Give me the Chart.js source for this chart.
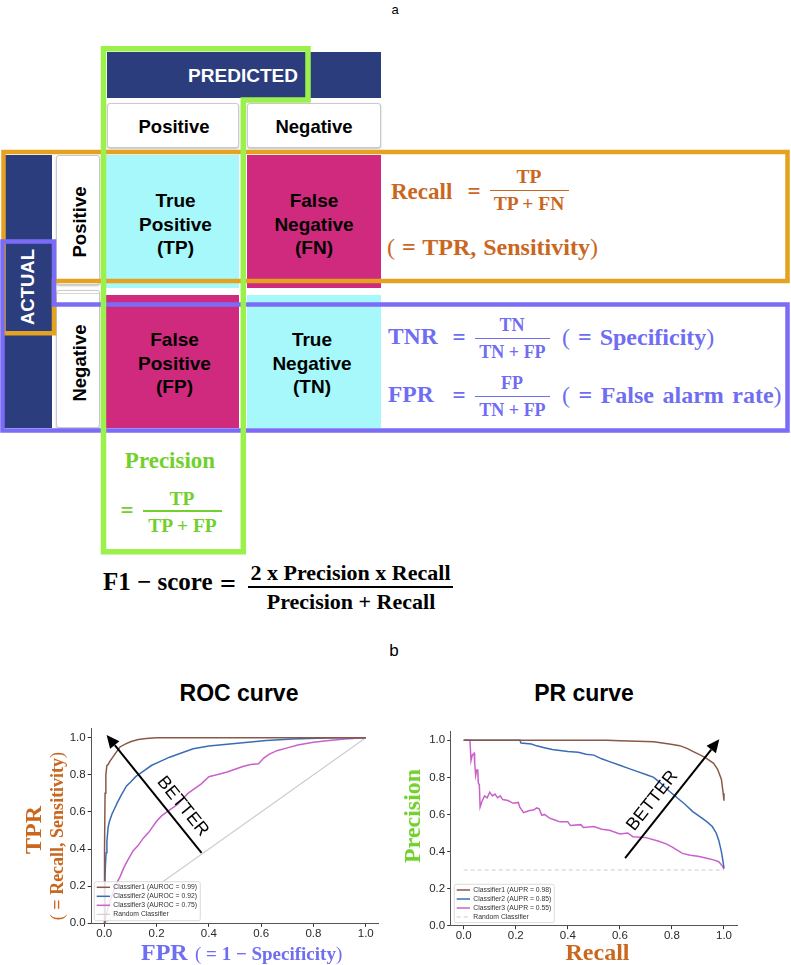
<!DOCTYPE html>
<html><head><meta charset="utf-8">
<script src="https://cdn.jsdelivr.net/npm/chart.js@4.4.1/dist/chart.umd.min.js"></script>
<style>
html,body{margin:0;padding:0;background:#fff;}
#fig{position:relative;width:791px;height:965px;overflow:hidden;font-family:"Liberation Sans",Arial,sans-serif;color:#000;}
.abs{position:absolute;}
.c{position:absolute;white-space:nowrap;line-height:1;transform:translate(-50%,-50%);}
.l{position:absolute;white-space:nowrap;line-height:1;transform:translateY(-50%);}
.rot{position:absolute;white-space:nowrap;line-height:1;transform:translate(-50%,-50%) rotate(-90deg);}
.serif{font-family:"Liberation Serif","Times New Roman",serif;font-weight:bold;}
.navy{position:absolute;background:#2c3d7e;}
.hdr{position:absolute;background:#fff;border:1px solid #c9c9c9;border-radius:3px;box-shadow:0 1px 2px rgba(0,0,0,0.25);box-sizing:border-box;}
.cell{position:absolute;display:flex;align-items:center;justify-content:center;text-align:center;font-weight:bold;font-size:19px;line-height:23.5px;}
.cyan{background:#a6f8fa;}
.mag{background:#cf2a7d;}
.bold{font-weight:bold;}
.fbar{position:absolute;}
.org{color:#c9671f;} .pur{color:#6f6df2;} .grn{color:#72d02c;}
.nw{font-weight:normal;}
</style></head>
<body>
<div id="fig">
  <div class="c" style="left:395px;top:9px;font-size:13px;">a</div>
  <div class="c" style="left:394px;top:650px;font-size:17px;">b</div>

  <!-- confusion matrix -->
  <div class="navy" style="left:107px;top:52px;width:274px;height:46px;"></div>
  <div class="c bold" style="left:243px;top:75px;font-size:19px;color:#fff;">PREDICTED</div>
  <div class="hdr" style="left:107px;top:103px;width:132px;height:45px;"></div>
  <div class="c bold" style="left:174px;top:127px;font-size:18.5px;">Positive</div>
  <div class="hdr" style="left:247px;top:103px;width:134px;height:45px;"></div>
  <div class="c bold" style="left:314px;top:127px;font-size:18.5px;">Negative</div>

  <div class="navy" style="left:4px;top:155px;width:48px;height:273px;"></div>
  <div class="rot bold" style="left:28px;top:287px;font-size:18.5px;color:#fff;">ACTUAL</div>
  <div class="hdr" style="left:56px;top:155px;width:44px;height:130px;"></div>
  <div class="rot bold" style="left:80px;top:222px;font-size:18.5px;">Positive</div>
  <div class="hdr" style="left:56px;top:290px;width:44px;height:138px;"></div>
  <div class="abs" style="left:57px;top:293px;width:42px;height:1px;background:#d6d6d6;"></div>
  <div class="rot bold" style="left:80px;top:363px;font-size:18.5px;">Negative</div>

  <div class="cell cyan" style="left:106px;top:155px;width:133px;height:133px;"><div style="transform:translate(3px,3px)">True<br>Positive<br>(TP)</div></div>
  <div class="cell mag" style="left:247px;top:155px;width:134px;height:133px;"><div style="transform:translate(0,3px)">False<br>Negative<br>(FN)</div></div>
  <div class="cell mag" style="left:106px;top:295px;width:133px;height:133px;"><div style="transform:translate(2px,2px)">False<br>Positive<br>(FP)</div></div>
  <div class="cell cyan" style="left:247px;top:295px;width:134px;height:133px;"><div style="transform:translate(-2px,2px)">True<br>Negative<br>(TN)</div></div>

  <svg class="abs" style="left:0;top:0;" width="791" height="560">
    <polygon points="3.5,152 787.5,152 787.5,281 54,281 54,333.3 3.5,333.3" fill="none" stroke="#e4a221" stroke-width="4.5"/>
    <polygon points="2.5,241.5 54,241.5 54,304.5 787.5,304.5 787.5,430.5 2.5,430.5" fill="none" stroke="#7b6cf7" stroke-width="4.5"/>
    <polygon points="103.5,48.8 308,48.8 308,100 243.3,100 243.3,551.7 103.5,551.7" fill="none" stroke="#9cf04c" stroke-width="5.5"/>
  </svg>

  <!-- Recall -->
  <div class="l serif org" style="left:391px;top:191px;font-size:23px;">Recall</div>
  <div class="c serif org" style="left:474px;top:191px;font-size:23px;">=</div>
  <div class="c serif org" style="left:529px;top:177px;font-size:19.5px;">TP</div>
  <div class="fbar" style="left:490px;top:189.5px;width:79px;height:1.6px;background:#c9671f;"></div>
  <div class="c serif org" style="left:529px;top:204px;font-size:19.5px;">TP + FN</div>
  <div class="l serif org" style="left:387px;top:247px;font-size:24px;word-spacing:1px;"><span class="nw">(</span> = TPR, Sensitivity<span class="nw">)</span></div>

  <!-- TNR / FPR -->
  <div class="l serif pur" style="left:388px;top:337px;font-size:23.5px;">TNR</div>
  <div class="c serif pur" style="left:459px;top:337px;font-size:23px;">=</div>
  <div class="c serif pur" style="left:512px;top:325px;font-size:18px;">TN</div>
  <div class="fbar" style="left:475px;top:337.5px;width:75px;height:1.5px;background:#6f6df2;"></div>
  <div class="c serif pur" style="left:512.5px;top:352px;font-size:18px;">TN + FP</div>
  <div class="l serif pur" style="left:562px;top:337px;font-size:24px;word-spacing:2px;"><span class="nw">(</span> = Specificity<span class="nw">)</span></div>

  <div class="l serif pur" style="left:388px;top:395px;font-size:23.5px;">FPR</div>
  <div class="c serif pur" style="left:459px;top:395px;font-size:23px;">=</div>
  <div class="c serif pur" style="left:512px;top:383px;font-size:18px;">FP</div>
  <div class="fbar" style="left:475px;top:395.5px;width:75px;height:1.5px;background:#6f6df2;"></div>
  <div class="c serif pur" style="left:512.5px;top:410px;font-size:18px;">TN + FP</div>
  <div class="l serif pur" style="left:562px;top:395px;font-size:24px;word-spacing:2.5px;"><span class="nw">(</span> = False alarm rate<span class="nw">)</span></div>

  <!-- Precision -->
  <div class="c serif grn" style="left:170px;top:460px;font-size:23px;">Precision</div>
  <div class="c serif grn" style="left:127px;top:510px;font-size:23px;">=</div>
  <div class="c serif grn" style="left:182px;top:499px;font-size:19.5px;">TP</div>
  <div class="fbar" style="left:143px;top:510px;width:79px;height:1.6px;background:#72d02c;"></div>
  <div class="c serif grn" style="left:182.5px;top:526px;font-size:19.5px;">TP + FP</div>

  <!-- F1 -->
  <div class="l serif" style="left:103px;top:581px;font-size:25px;">F1 − score</div>
  <div class="c serif" style="left:228px;top:584px;font-size:28px;">=</div>
  <div class="c serif" style="left:350.5px;top:573px;font-size:22px;">2 x Precision x Recall</div>
  <div class="fbar" style="left:248px;top:586px;width:205px;height:1.8px;background:#000;"></div>
  <div class="c serif" style="left:351px;top:602px;font-size:22px;">Precision + Recall</div>

  <!-- charts -->
  <div class="c bold" style="left:239px;top:693px;font-size:23px;">ROC curve</div>
  <div class="c bold" style="left:584px;top:693px;font-size:23px;">PR curve</div>
  <div class="abs" style="left:0;top:665px;width:395px;height:300px;"><canvas id="roc" width="395" height="300"></canvas></div>
  <div class="abs" style="left:395px;top:665px;width:396px;height:300px;"><canvas id="pr" width="396" height="300"></canvas></div>

  <div class="rot serif org" style="left:33px;top:830px;font-size:24px;">TPR</div>
  <div class="rot serif org" style="left:57px;top:836px;font-size:18px;"><span class="nw">(</span> = Recall, Sensitivity<span class="nw">)</span></div>
  <div class="l serif pur" style="left:141px;top:952px;font-size:24px;">FPR</div>
  <div class="l serif pur" style="left:195px;top:953px;font-size:19px;"><span class="nw">(</span> = 1 − Specificity<span class="nw">)</span></div>
  <div class="c serif org" style="left:597.5px;top:952px;font-size:24px;">Recall</div>
  <div class="rot serif grn" style="left:412px;top:816px;font-size:24px;">Precision</div>
</div>

<script>
// ---------- data ----------
const tickValues = [0, 0.2, 0.4, 0.6, 0.8, 1.0];
const tickLabels = ['0.0', '0.2', '0.4', '0.6', '0.8', '1.0'];

const rocLabels = ['Classifier1 (AUROC = 0.99)', 'Classifier2 (AUROC = 0.92)', 'Classifier3 (AUROC = 0.75)', 'Random Classifier'];
const prLabels = ['Classifier1 (AUPR = 0.98)', 'Classifier2 (AUPR = 0.85)', 'Classifier3 (AUPR = 0.55)', 'Random Classifier'];

const roc1Fpr = [0, 0.001, 0.003, 0.006, 0.01, 0.015, 0.02, 0.03, 0.04, 0.05, 0.06, 0.08, 0.1, 0.13, 0.16, 0.2, 0.3, 0.5, 0.7, 1.0];
const roc1Tpr = [0, 0.4, 0.7, 0.8, 0.85, 0.855, 0.87, 0.89, 0.91, 0.93, 0.95, 0.965, 0.978, 0.99, 0.995, 1.0, 1.0, 1.0, 1.0, 1.0];

const roc2Fpr = [0, 0.002, 0.004, 0.007, 0.01, 0.015, 0.02, 0.03, 0.04, 0.05, 0.065, 0.085, 0.1, 0.12, 0.15, 0.18, 0.21, 0.25, 0.3, 0.34, 0.4, 0.47, 0.55, 0.62, 0.72, 0.85, 0.92, 1.0];
const roc2Tpr = [0, 0.2, 0.3, 0.38, 0.44, 0.52, 0.55, 0.59, 0.62, 0.65, 0.69, 0.74, 0.76, 0.79, 0.82, 0.85, 0.87, 0.895, 0.92, 0.94, 0.955, 0.965, 0.975, 0.985, 0.993, 0.998, 1.0, 1.0];

const roc3Fpr = [0, 0.005, 0.012, 0.022, 0.032, 0.045, 0.06, 0.075, 0.09, 0.11, 0.13, 0.15, 0.17, 0.2, 0.22, 0.24, 0.26, 0.28, 0.3, 0.32, 0.34, 0.37, 0.4, 0.43, 0.47, 0.5, 0.53, 0.56, 0.59, 0.61, 0.63, 0.66, 0.7, 0.74, 0.8, 0.86, 0.92, 1.0];
const roc3Tpr = [0, 0.03, 0.07, 0.12, 0.16, 0.21, 0.25, 0.3, 0.34, 0.39, 0.42, 0.46, 0.49, 0.55, 0.58, 0.6, 0.62, 0.64, 0.67, 0.7, 0.72, 0.75, 0.79, 0.8, 0.815, 0.83, 0.845, 0.855, 0.86, 0.89, 0.91, 0.93, 0.945, 0.96, 0.975, 0.985, 0.993, 1.0];

const rocRandFpr = [0, 1];
const rocRandTpr = [0, 1];

const pr1Recall = [0, 0.2, 0.4, 0.55, 0.6, 0.7, 0.73, 0.79, 0.83, 0.86, 0.88, 0.91, 0.93, 0.96, 0.975, 0.99, 0.997, 1.0];
const pr1Precision = [1, 1, 1, 1, 0.997, 0.994, 0.992, 0.98, 0.971, 0.955, 0.94, 0.92, 0.905, 0.876, 0.845, 0.79, 0.714, 0.674];

const pr2Recall = [0, 0.216, 0.22, 0.26, 0.28, 0.31, 0.34, 0.37, 0.4, 0.44, 0.47, 0.5, 0.53, 0.56, 0.6, 0.63, 0.66, 0.7, 0.73, 0.76, 0.79, 0.82, 0.85, 0.88, 0.91, 0.935, 0.955, 0.97, 0.98, 0.99, 0.996, 1.0];
const pr2Precision = [1, 1, 0.985, 0.98, 0.97, 0.96, 0.95, 0.945, 0.94, 0.935, 0.925, 0.92, 0.9, 0.885, 0.865, 0.85, 0.835, 0.815, 0.8, 0.765, 0.725, 0.69, 0.655, 0.615, 0.585, 0.56, 0.535, 0.5, 0.46, 0.4, 0.35, 0.31];

const pr3Recall = [0, 0.024, 0.028, 0.033, 0.04, 0.042, 0.046, 0.05, 0.054, 0.056, 0.06, 0.063, 0.07, 0.08, 0.09, 0.1, 0.11, 0.12, 0.13, 0.14, 0.15, 0.17, 0.19, 0.21, 0.215, 0.23, 0.25, 0.27, 0.28, 0.29, 0.3, 0.31, 0.33, 0.35, 0.37, 0.4, 0.41, 0.45, 0.46, 0.5, 0.53, 0.56, 0.6, 0.63, 0.65, 0.7, 0.75, 0.78, 0.8, 0.84, 0.87, 0.9, 0.93, 0.96, 0.98, 0.995, 1.0];
const pr3Precision = [1, 1, 0.89, 0.92, 0.93, 0.88, 0.81, 0.84, 0.84, 0.77, 0.76, 0.64, 0.67, 0.7, 0.69, 0.72, 0.7, 0.71, 0.69, 0.7, 0.68, 0.675, 0.66, 0.665, 0.64, 0.61, 0.62, 0.625, 0.635, 0.63, 0.595, 0.6, 0.58, 0.57, 0.56, 0.56, 0.54, 0.545, 0.53, 0.535, 0.52, 0.515, 0.495, 0.5, 0.48, 0.475, 0.455, 0.44, 0.425, 0.39, 0.38, 0.375, 0.365, 0.355, 0.345, 0.32, 0.305];

const prRandRecall = [0, 1];
const prRandPrecision = [0.3, 0.3];

// annotation arrows (data coordinates)
const rocArrow = { from: [0.372, 0.38], to: [0.009, 1.015], label: [0.3, 0.63], text: 'BETTER' };
const prArrow = { from: [0.62, 0.364], to: [0.982, 1.005], label: [0.725, 0.673], text: 'BETTER' };

// ---------- styles ----------
const colors = ['#8a5848', '#3a6cb6', '#c862c9', '#cccccc'];

function pts(xs, ys) { return xs.map((v, i) => ({ x: v, y: ys[i] })); }

const overlayPlugin = {
  id: 'overlay',
  afterDatasetsDraw(chart, args, o) {
    const { ctx, chartArea: ca } = chart;
    const sx = chart.scales.x, sy = chart.scales.y;
    const a = o.arrow;
    const x0 = sx.getPixelForValue(a.from[0]), y0 = sy.getPixelForValue(a.from[1]);
    const x1 = sx.getPixelForValue(a.to[0]), y1 = sy.getPixelForValue(a.to[1]);
    const ang = Math.atan2(y1 - y0, x1 - x0);
    const hl = 13, hw = 6;
    const bx = x1 - hl * Math.cos(ang), by = y1 - hl * Math.sin(ang);
    ctx.save();
    ctx.strokeStyle = '#000'; ctx.lineWidth = 2;
    ctx.beginPath(); ctx.moveTo(x0, y0); ctx.lineTo(bx, by); ctx.stroke();
    ctx.beginPath(); ctx.moveTo(x1, y1);
    ctx.lineTo(bx + hw * Math.sin(ang), by - hw * Math.cos(ang));
    ctx.lineTo(bx - hw * Math.sin(ang), by + hw * Math.cos(ang));
    ctx.closePath(); ctx.fillStyle = '#000'; ctx.fill();
    let ta = ang;
    if (ta > Math.PI / 2) ta -= Math.PI;
    if (ta < -Math.PI / 2) ta += Math.PI;
    const tx = sx.getPixelForValue(a.label[0]), ty = sy.getPixelForValue(a.label[1]);
    ctx.translate(tx, ty); ctx.rotate(ta);
    ctx.font = '18px "Liberation Sans", Arial, sans-serif';
    ctx.textAlign = 'center'; ctx.textBaseline = 'middle';
    ctx.fillText(a.text, 0, 0);
    ctx.restore();

    const L = o.legend;
    const left = ca.left + L.dx, bottom = ca.bottom - L.dy, top = bottom - L.h;
    ctx.save();
    ctx.beginPath();
    const r = 2;
    ctx.moveTo(left + r, top); ctx.lineTo(left + L.w - r, top); ctx.quadraticCurveTo(left + L.w, top, left + L.w, top + r);
    ctx.lineTo(left + L.w, bottom - r); ctx.quadraticCurveTo(left + L.w, bottom, left + L.w - r, bottom);
    ctx.lineTo(left + r, bottom); ctx.quadraticCurveTo(left, bottom, left, bottom - r);
    ctx.lineTo(left, top + r); ctx.quadraticCurveTo(left, top, left + r, top);
    ctx.closePath();
    ctx.fillStyle = 'rgba(255,255,255,0.82)'; ctx.fill();
    ctx.strokeStyle = '#d2d2d2'; ctx.lineWidth = 0.8; ctx.stroke();
    chart.data.datasets.forEach((ds, i) => {
      const yy = top + L.first + i * L.step;
      ctx.strokeStyle = ds.borderColor; ctx.lineWidth = ds.borderWidth;
      ctx.setLineDash(ds.borderDash || []);
      ctx.beginPath(); ctx.moveTo(left + 2.4, yy); ctx.lineTo(left + 15.7, yy); ctx.stroke();
      ctx.setLineDash([]);
      ctx.fillStyle = '#333';
      ctx.font = '6.8px "Liberation Sans", Arial, sans-serif';
      ctx.textAlign = 'left'; ctx.textBaseline = 'middle';
      ctx.fillText(ds.label, left + 19, yy);
    });
    ctx.restore();
  }
};

function axis(isX, size) {
  return {
    type: 'linear',
    min: isX ? -0.05 : 0,
    max: 1.05,
    afterBuildTicks: s => { s.ticks = tickValues.map(v => ({ value: v })); },
    afterFit: s => { if (isX) s.height = size; else s.width = size; },
    ticks: {
      callback: (v, i) => tickLabels[i],
      font: { family: '"Liberation Sans", Arial, sans-serif', size: 11.5 },
      color: '#2a2a2a', padding: isX ? 0 : 2, maxRotation: 0, autoSkip: false
    },
    grid: { drawOnChartArea: false, drawTicks: true, tickLength: 3.5, color: '#333', lineWidth: 1 },
    border: { display: true, color: '#555', width: 1 }
  };
}

function makeChart(id, series, labels, pad, yW, xH, arrow, legend) {
  const datasets = series.map((s, i) => ({
    label: labels[i],
    data: pts(s[0], s[1]),
    borderColor: colors[i],
    borderWidth: i === 3 ? 1.1 : 1.5,
    borderDash: s[2] || [],
    pointRadius: 0,
    tension: 0,
    fill: false,
    order: i
  }));
  return new Chart(document.getElementById(id), {
    type: 'line',
    data: { datasets },
    options: {
      responsive: false, animation: false, devicePixelRatio: 1,
      layout: { padding: pad },
      plugins: { legend: { display: false }, title: { display: false }, tooltip: { enabled: false },
        overlay: { arrow, legend } },
      scales: { x: axis(true, xH), y: axis(false, yW) }
    },
    plugins: [overlayPlugin]
  });
}

makeChart('roc',
  [[roc1Fpr, roc1Tpr], [roc2Fpr, roc2Tpr], [roc3Fpr, roc3Tpr], [rocRandFpr, rocRandTpr]],
  rocLabels,
  { left: 0, right: 16.2, top: 63.4, bottom: 0 }, 91.2, 41.7,
  rocArrow, { dx: 3.1, dy: 2.6, w: 106, h: 39, first: 5.6, step: 9 });

makeChart('pr',
  [[pr1Recall, pr1Precision], [pr2Recall, pr2Precision], [pr3Recall, pr3Precision], [prRandRecall, prRandPrecision, [4, 3]]],
  prLabels,
  { left: 0, right: 54, top: 66, bottom: 0 }, 55.7, 39.3,
  prArrow, { dx: 3.6, dy: 3, w: 100, h: 38.4, first: 5.7, step: 9 });
</script>
</body></html>
